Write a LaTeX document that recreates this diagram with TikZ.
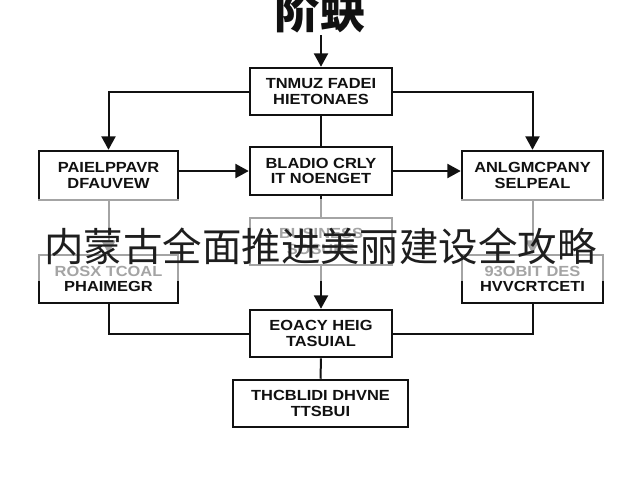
\documentclass[tikz,border=0pt]{standalone}
\usepackage{fontspec}
\setmainfont{Liberation Sans}
\newfontfamily\boxfont{Liberation Sans}[FakeStretch=1.12]
\newfontfamily\cjk{Noto Sans CJK SC}
\usetikzlibrary{arrows.meta}
\definecolor{ink}{HTML}{111111}
\definecolor{cjkink}{HTML}{1E1E1E}
\tikzset{
  box/.style={draw=ink, line width=1.9pt, fill=white, inner sep=0pt, align=center,
    font=\boxfont\fontsize{11}{11.5}\selectfont\bfseries, text=ink},
  conn/.style={draw=ink, line width=1.5pt},
  arr/.style={conn, -{Triangle[length=10pt,width=10.5pt]}},
}
\begin{document}
\begin{tikzpicture}[x=0.75pt,y=-0.75pt]
\useasboundingbox (0,0) rectangle (640,480);
\fill[white] (0,0) rectangle (640,480);
% title
\node[font=\cjk\bfseries\fontsize{34}{36}\selectfont, text=ink] (title) at (320,11) {阶蚗};
\coordinate (tsrc) at (321,35);
% boxes (sizes in pt = px * 0.75)
\node[box, minimum width=106.5pt, minimum height=35.25pt] (top) at (321,91.5) {TNMUZ FADEI\\HIETONAES};
\node[box, minimum width=104.25pt, minimum height=36.75pt] (left1) at (108.5,175.5) {PAIELPPAVR\\DFAUVEW};
\node[box, minimum width=106.5pt, minimum height=36pt] (mid1) at (321,171) {BLADIO CRLY\\IT NOENGET};
\node[box, minimum width=105.75pt, minimum height=36.75pt] (right1) at (532.5,175.5) {ANLGMCPANY\\SELPEAL};
\node[box, minimum width=106.5pt, minimum height=35.25pt] (mid2) at (321,241.5) {BUSINESS\\SOSUES};
\node[box, minimum width=104.25pt, minimum height=36pt] (left2) at (108.5,279) {ROSX TCOAL\\PHAIMEGR};
\node[box, minimum width=105.75pt, minimum height=36pt] (right2) at (532.5,279) {93OBIT DES\\HVVCRTCETI};
\node[box, minimum width=106.5pt, minimum height=35.25pt] (mid3) at (321,333.5) {EOACY HEIG\\TASUIAL};
\node[box, minimum width=131.25pt, minimum height=35.25pt] (bot) at (320.5,403.5) {THCBLIDI DHVNE\\TTSBUI};
% connectors
\draw[arr] (tsrc) -- (top.north);
\draw[arr] (top.west) -| (left1.north);
\draw[arr] (top.east) -| (right1.north);
\draw[conn] (top.south) -- (mid1.north);
\draw[arr] (left1.east |- mid1.west) -- (mid1.west);
\draw[arr] (mid1.east) -- (right1.west |- mid1.east);
\draw[arr] (left1.south) -- (left2.north);
\draw[arr] (right1.south) -- (right2.north);
\draw[conn] (mid1.south) -- (mid2.north);
\draw[arr] (mid2.south) -- (mid3.north);
\draw[conn] (left2.south) |- (mid3.west);
\draw[conn] (right2.south) |- (mid3.east);
\draw[conn] (mid3.south) -- (bot.north);
% fade band
\fill[white, opacity=0.62] (0,199) rectangle (640,281);
% overlay caption
\node[font=\cjk\fontsize{29.6}{32}\selectfont, text=cjkink, inner sep=0pt] (cap) at (320.5,246.5) {内蒙古全面推进美丽建设全攻略};
\end{tikzpicture}
\end{document}
